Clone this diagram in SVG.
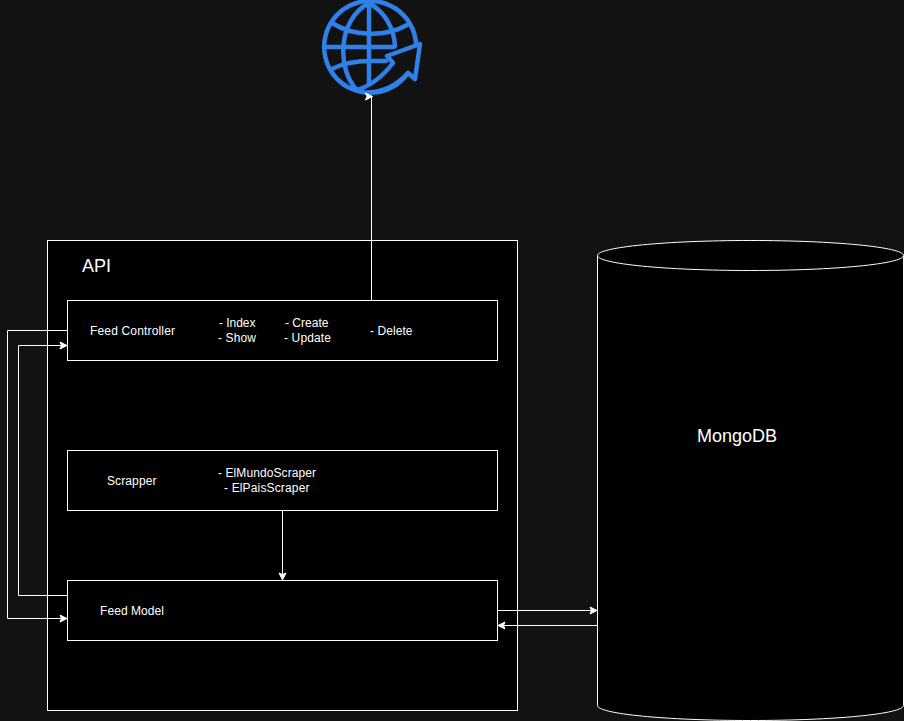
<svg xmlns="http://www.w3.org/2000/svg" width="904" height="721" viewBox="0 0 904 721">
<style>
.box{fill:#000;stroke:#fff;stroke-width:1}
.edge{fill:none;stroke:#fff;stroke-width:1}
text{font-family:"Liberation Sans",Arial,Helvetica,sans-serif;fill:#fff;font-size:12px}
.g{fill:none;stroke:#2f80e8;stroke-width:4.500;stroke-linecap:round;stroke-linejoin:round}
</style>
<defs>
<marker id="arrow" markerUnits="userSpaceOnUse" markerWidth="10" markerHeight="10" refX="7" refY="4" orient="auto" overflow="visible">
<path d="M0 0.500L7 4L0 7.500L1.500 4Z" fill="#fff" stroke="#fff" stroke-width="1"/>
</marker>
</defs>
<rect width="904" height="721" fill="#121212"/>
<g id="api"><rect class="box" x="47.500" y="240.500" width="470" height="470"/><text x="82" y="272" style="font-size:18px">API</text></g>
<g id="mongodb">
<path class="box" d="M597.500 255.500C597.500 247.200 666 240.500 750.500 240.500S903.500 247.200 903.500 255.500V705.500C903.500 713.800 835 720.500 750.500 720.500S597.500 713.800 597.500 705.500Z"/>
<path class="edge" d="M597.500 255.500C597.500 263.800 666 270.500 750.500 270.500S903.500 263.800 903.500 255.500"/>
<text x="697" y="442" style="font-size:18px">MongoDB</text>
</g>
<g id="feed-controller"><rect class="box" x="67.500" y="300.500" width="430" height="60"/>
<text x="90" y="335" textLength="85">Feed Controller</text>
<text x="219" y="327" textLength="36.500">- Index</text><text x="218" y="342" textLength="38">- Show</text>
<text x="285" y="327" textLength="43.500">- Create</text><text x="284" y="342" textLength="47">- Update</text>
<text x="370" y="335" textLength="42.500">- Delete</text></g>
<g id="scrapper"><rect class="box" x="67.500" y="450.500" width="430" height="60"/>
<text x="107" y="485" textLength="49.500">Scrapper</text>
<text x="218" y="477" textLength="98">- ElMundoScraper</text><text x="224" y="492" textLength="85.500">- ElPaisScraper</text></g>
<g id="feed-model"><rect class="box" x="67.500" y="580.500" width="430" height="60"/>
<text x="100" y="615" textLength="64">Feed Model</text></g>
<g id="web">
<path class="g" d="M416 43A46 46 0 1 0 408 73L415 79L420 44L387 56L393 63C383 76 370 86 357 90"/>
<path class="g" d="M369 3V84M324 47H394M332 23C354 37 386 37 407 25M369 3C337 20 337 70 357 90M369 3C385 12 394 28 395 46M332 69C343 63 357 61 371 61H386"/>
<path class="g" d="M408 73C398 84 384 92 368 92.500"/>
</g>
<g id="connectors">
<path class="edge" marker-end="url(#arrow)" d="M371.500 300.500V96.500H372.500"/>
<path class="edge" marker-end="url(#arrow)" d="M67.500 330.500H7.500V618.500H67"/>
<path class="edge" marker-end="url(#arrow)" d="M67.500 595.500H18.500V345.500H67"/>
<path class="edge" marker-end="url(#arrow)" d="M282.500 510.500V580"/>
<path class="edge" marker-end="url(#arrow)" d="M497.500 610.500H597"/>
<path class="edge" marker-end="url(#arrow)" d="M597.500 625.500H498"/>
</g>
</svg>
